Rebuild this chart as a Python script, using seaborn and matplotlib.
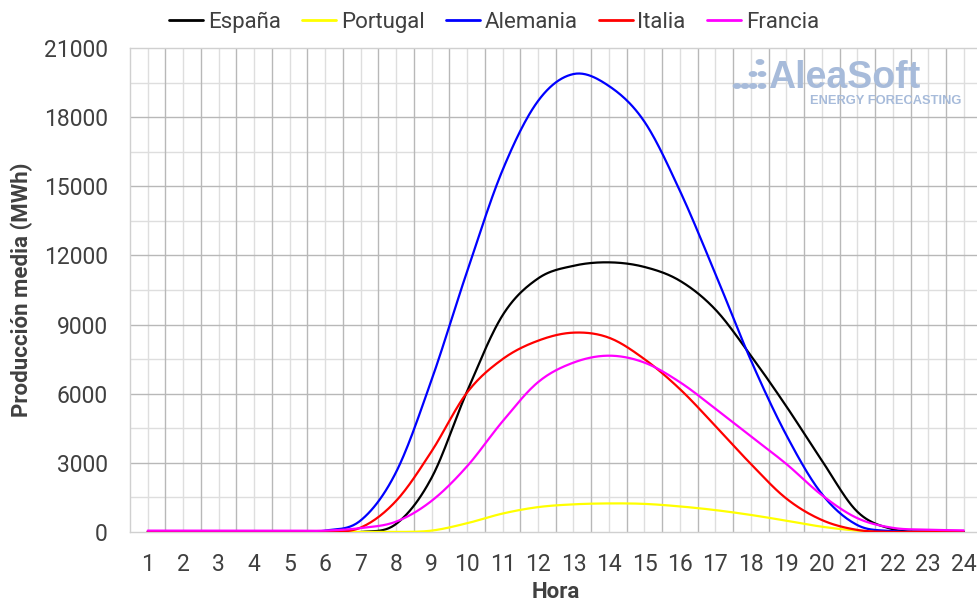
import numpy as np
import pandas as pd
import matplotlib
matplotlib.use("Agg")
import matplotlib.pyplot as plt
from matplotlib.patches import Circle
import seaborn as sns

horas = list(range(1, 25))
espana = [0, 0, 0, 0, 0, 0, 0, 350, 2350, 6100, 9400, 11000, 11550, 11700,
          11500, 10900, 9650, 7650, 5450, 3100, 880, 120, 20, 0]
portugal = [0, 0, 0, 0, 0, 0, 0, 0, 60, 380, 800, 1080, 1200, 1240,
            1220, 1110, 950, 740, 490, 230, 60, 0, 0, 0]
alemania = [0, 0, 0, 0, 0, 60, 500, 2600, 6600, 11300, 15700, 18700, 19870, 19350,
            17800, 14800, 11200, 7450, 4200, 1650, 300, 40, 0, 0]
italia = [0, 0, 0, 0, 0, 10, 190, 1350, 3500, 6050, 7500, 8300, 8650, 8430,
          7500, 6200, 4600, 2950, 1450, 520, 90, 0, 0, 0]
francia = [60, 60, 60, 60, 60, 60, 170, 450, 1350, 2850, 4800, 6500, 7350, 7650,
           7350, 6500, 5350, 4150, 2950, 1600, 600, 180, 100, 70]

series = {"España": espana, "Portugal": portugal, "Alemania": alemania,
          "Italia": italia, "Francia": francia}
colores = {"España": "#000000", "Portugal": "#FFFF00", "Alemania": "#0000FF",
           "Italia": "#FF0000", "Francia": "#FF00FF"}


def suavizar(x, y, n=24):
    """Catmull-Rom smoothing (like Excel's smoothed line) for rendering."""
    x = np.asarray(x, float)
    y = np.asarray(y, float)
    px = np.concatenate([[x[0]], x, [x[-1]]])
    py = np.concatenate([[y[0]], y, [y[-1]]])
    xs, ys = [], []
    for i in range(1, len(px) - 2):
        t = np.linspace(0, 1, n, endpoint=False)
        for arr, out in ((px, xs), (py, ys)):
            p0, p1, p2, p3 = arr[i - 1], arr[i], arr[i + 1], arr[i + 2]
            out.extend(0.5 * ((2 * p1) + (-p0 + p2) * t +
                              (2 * p0 - 5 * p1 + 4 * p2 - p3) * t ** 2 +
                              (-p0 + 3 * p1 - 3 * p2 + p3) * t ** 3))
    xs.append(x[-1])
    ys.append(y[-1])
    return np.array(xs), np.array(ys)


frames = []
for nombre, vals in series.items():
    sx, sy = suavizar(horas, vals)
    frames.append(pd.DataFrame({"Hora": sx, "Valor": sy, "País": nombre}))
df = pd.concat(frames, ignore_index=True)

sns.set_theme(style="white")
plt.rcParams["font.family"] = ["Roboto", "DejaVu Sans"]

fig = plt.figure(figsize=(9.78, 6.05), dpi=100)
ax = fig.add_axes([130 / 978, 1 - 532 / 605, 24 * 35.48 / 978, 484 / 605])

dark = "#b8b8b8"
light = "#dedede"
ax.set_xlim(0.5, 24.5)
ax.set_ylim(0, 21000)
ax.set_xticks(horas)
ax.set_yticks(np.arange(0, 21001, 3000))
ax.grid(False)
for xv in np.arange(1.5, 24.5, 1):
    ax.axvline(xv, color=dark, lw=1.0, zorder=0.5)
for xv in horas:
    ax.axvline(xv, color=light, lw=1.0, zorder=0.4)
for yv in np.arange(3000, 21000, 3000):
    ax.axhline(yv, color=dark, lw=1.0, zorder=0.5)
for yv in np.arange(1500, 21000, 3000):
    ax.axhline(yv, color=light, lw=1.0, zorder=0.4)

sns.lineplot(data=df, x="Hora", y="Valor", hue="País", palette=colores,
             hue_order=list(series.keys()), sort=False, estimator=None,
             units="País", lw=1.6, ax=ax, legend=True, zorder=3)

for s in ax.spines.values():
    s.set_color("#d0d0d0")
    s.set_linewidth(1.0)
ax.spines["right"].set_visible(False)

ax.tick_params(axis="both", which="both", length=0, labelsize=16.5,
               labelcolor="#404040")
ax.tick_params(axis="x", pad=15)
ax.tick_params(axis="y", pad=16)
ax.set_xticklabels([str(h) for h in horas])
ax.set_yticklabels([str(v) for v in range(0, 21001, 3000)])

ax.set_xlabel("Hora", fontsize=16, fontweight="bold", color="#404040", labelpad=4)
ax.set_ylabel("Producción media (MWh)", fontsize=16, fontweight="bold",
              color="#404040", labelpad=8)

handles, labels = ax.get_legend_handles_labels()
ax.get_legend().remove()
for h in handles:
    h.set_linewidth(2.0)
fig.legend(handles, labels, loc="center", bbox_to_anchor=(0.505, 1 - 22 / 605),
           ncol=5, frameon=False, fontsize=16, handlelength=1.55,
           handletextpad=0.2, columnspacing=0.95, labelcolor="#404040")

# Logo
logo = "#a7bbda"
fig.text(768 / 978, 1 - 78 / 605, "AleaSoft", fontsize=27, fontweight="bold",
         color=logo, va="center", ha="left", family=["Liberation Sans", "DejaVu Sans"])
fig.text(810 / 978, 1 - 101 / 605, "ENERGY FORECASTING", fontsize=9.3,
         fontweight="bold", color=logo, va="center", ha="left",
         family=["Liberation Sans", "DejaVu Sans"])
for (cx, cy) in [(760, 62), (753, 74), (762, 74), (737, 86), (745, 86), (753, 86), (762, 86)]:
    fig.patches.append(Circle((cx / 978, 1 - cy / 605), 3.6 / 978, color=logo,
                              transform=fig.transFigure, figure=fig))

fig.savefig("out.png", dpi=100)
